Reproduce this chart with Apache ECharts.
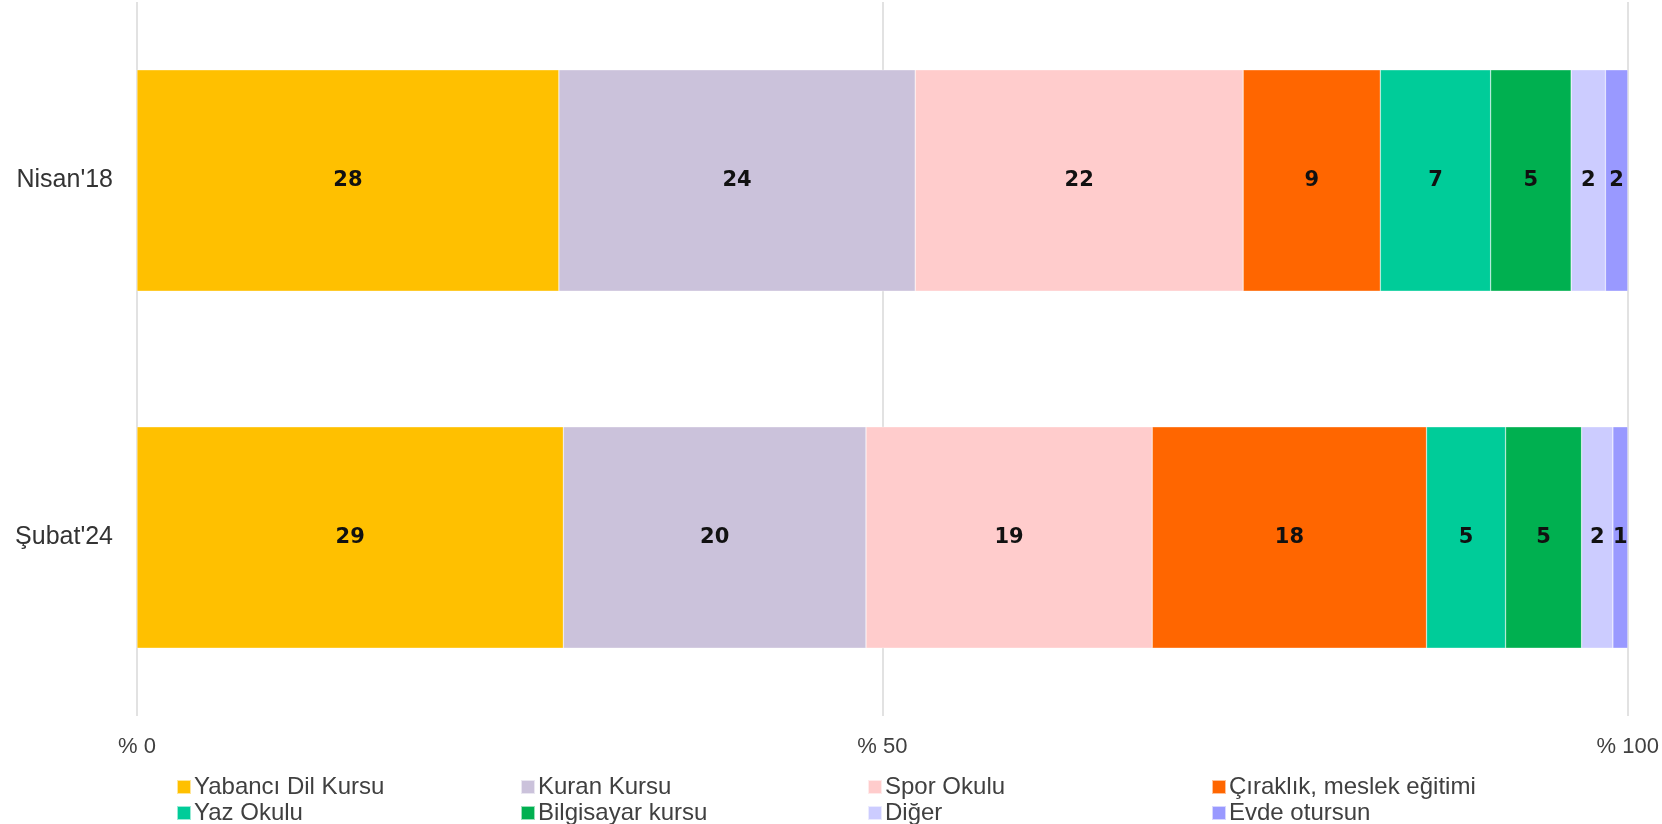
<!DOCTYPE html>
<html>
<head>
<meta charset="utf-8">
<script src="https://cdn.jsdelivr.net/npm/echarts@6/dist/echarts.min.js"></script>
<style>html,body{margin:0;padding:0;background:#fff}#c{width:1662px;height:824px}</style>
</head>
<body>
<div id="c"></div>
<script>
const categories = ["Nisan'18", "Şubat'24"];
const seriesNames = ["Yabancı Dil Kursu", "Kuran Kursu", "Spor Okulu", "Çıraklık, meslek eğitimi", "Yaz Okulu", "Bilgisayar kursu", "Diğer", "Evde otursun"];
const yabanci = [28.3, 28.6];
const kuran = [23.9, 20.3];
const spor = [22.0, 19.2];
const ciraklik = [9.2, 18.4];
const yaz = [7.4, 5.3];
const bilgisayar = [5.4, 5.1];
const diger = [2.3, 2.1];
const evde = [1.5, 1.0];
const tickLabels = {0: '% 0', 50: '% 50', 100: '% 100'};

const values = [yabanci, kuran, spor, ciraklik, yaz, bilgisayar, diger, evde];
const colors = ['#FFC000', '#CBC2DB', '#FFCCCC', '#FF6600', '#00CC99', '#00B050', '#CCCCFF', '#9999FF'];
const sansFont = "'Liberation Sans', Arial, sans-serif";

const series = values.map((v, i) => ({
  name: seriesNames[i],
  type: 'bar',
  stack: 'total',
  data: v,
  barCategoryGap: '38%',
  itemStyle: { color: colors[i], borderColor: 'rgba(255,255,255,0.6)', borderWidth: 0.5 },
  label: {
    show: true,
    position: 'inside',
    formatter: p => Math.round(p.value),
    color: '#111',
    fontFamily: "'DejaVu Sans', sans-serif",
    fontWeight: 'bold',
    fontSize: 21
  }
}));

const legendLeft = [176, 520, 867, 1211];
const legendTop = [775, 801];
const legends = seriesNames.map((name, i) => ({
  left: legendLeft[i % 4],
  top: legendTop[Math.floor(i / 4)],
  padding: 0,
  itemWidth: 14,
  itemHeight: 14,
  icon: 'rect',
  data: [name],
  textStyle: { fontFamily: sansFont, fontSize: 24, lineHeight: 14, color: '#404040', padding: [0, 0, 0, -2] }
}));

const chart = echarts.init(document.getElementById('c'));
chart.setOption({
  animation: false,
  legend: legends,
  grid: { left: 137, right: 34, top: 2, bottom: 108, containLabel: false },
  xAxis: {
    type: 'value', min: 0, max: 100, interval: 50,
    axisLine: { show: false }, axisTick: { show: false },
    splitLine: { show: true, lineStyle: { color: '#D9D9D9', width: 1.5 } },
    axisLabel: { formatter: v => tickLabels[v], fontFamily: sansFont, fontSize: 22, color: '#404040', margin: 20 }
  },
  yAxis: {
    type: 'category', data: categories, inverse: true,
    axisLine: { show: false }, axisTick: { show: false },
    axisLabel: { fontFamily: sansFont, fontSize: 25, color: '#333333', margin: 24 }
  },
  series: series
});
</script>
</body>
</html>
